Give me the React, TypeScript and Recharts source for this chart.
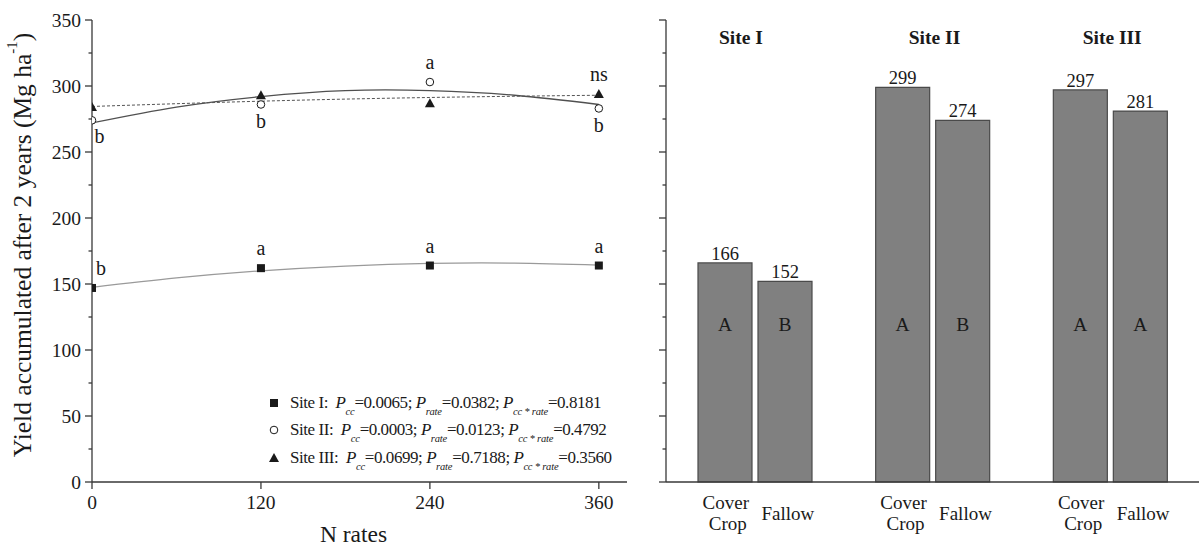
import React from 'react';
import {
  ComposedChart,
  BarChart,
  Bar,
  Line,
  Scatter,
  XAxis,
  YAxis,
  Legend,
  LabelList,
  ReferenceDot,
} from 'recharts';

// ---------------- data: left panel ----------------
const nRates = [0, 120, 240, 360];
const siteIYield = [147, 162, 164, 164];
const siteIIYield = [274, 286, 303, 283];
const siteIIIYield = [284, 293, 287, 294];

const siteILetters = ['b', 'a', 'a', 'a'];
const siteIILetters = ['b', 'b', 'a', 'b'];
const siteIIILetters = ['', '', '', 'ns'];
const siteILetterPos = ['aboveRight', 'above', 'above', 'above'];
const siteIILetterPos = ['belowRight', 'below', 'above', 'below'];
const siteIIILetterPos = ['', '', '', 'above'];

// fitted curves
const fitRates = [0, 60, 120, 180, 240, 300, 360];
const siteIFit = [147.5, 154.6, 160, 163.6, 165.6, 165.8, 164.3];
const siteIIFit = [272, 284, 292, 296.5, 296.5, 293, 286];
const siteIIIFitRates = [0, 120, 240, 360];
const siteIIIFit = [284.5, 288.5, 291.3, 293];

const xTicks = [0, 120, 240, 360];
const yTicks = [0, 25, 50, 75, 100, 125, 150, 175, 200, 225, 250, 275, 300, 325, 350];

// legend
const legendNames = ['Site I', 'Site II', 'Site III'];
const legendShapes = ['square', 'circle', 'triangle'];
const pCc = ['0.0065', '0.0003', '0.0699'];
const pRate = ['0.0382', '0.0123', '0.7188'];
const pCcRate = ['0.8181', '0.4792', '0.3560'];

// ---------------- data: right panel ----------------
const sites = ['Site I', 'Site II', 'Site III'];
const coverCrop = [166, 299, 297];
const fallow = [152, 274, 281];
const coverLetters = ['A', 'A', 'A'];
const fallowLetters = ['B', 'B', 'A'];
const coverLabelLines = ['Cover', 'Crop'];
const fallowLabel = 'Fallow';
const letterLevel = 119;

// ---------------- styles ----------------
const FONT = '"Liberation Serif", "Times New Roman", Times, serif';
const INK = '#1a1a1a';
const AXIS = '#383838';
const TICK_SIZE = 7;
const TICK_MARGIN = 4;
const MINOR = 3.5;
const siteTitleShift = [-14, 2, 2];

const siteIData = nRates.map((x, i) => ({ x, y: siteIYield[i], letter: siteILetters[i], pos: siteILetterPos[i] }));
const siteIIData = nRates.map((x, i) => ({ x, y: siteIIYield[i], letter: siteIILetters[i], pos: siteIILetterPos[i] }));
const siteIIIData = nRates.map((x, i) => ({ x, y: siteIIIYield[i], letter: siteIIILetters[i], pos: siteIIILetterPos[i] }));
const siteIFitData = fitRates.map((x, i) => ({ x, y: siteIFit[i] }));
const siteIIFitData = fitRates.map((x, i) => ({ x, y: siteIIFit[i] }));
const siteIIIFitData = siteIIIFitRates.map((x, i) => ({ x, y: siteIIIFit[i] }));

const barData = sites.map((site, i) => ({
  site,
  cover: coverCrop[i],
  fallow: fallow[i],
  coverTag: `${coverLetters[i]}|${coverCrop[i]}`,
  fallowTag: `${fallowLetters[i]}|${fallow[i]}`,
}));

function makeYTick(showLabel: boolean) {
  return (props: any) => {
    const { x, y, payload } = props;
    const v = Number(payload.value);
    const major = v % 50 === 0;
    const axisX = x + TICK_SIZE + TICK_MARGIN;
    return (
      <g>
        <line x1={axisX - (major ? TICK_SIZE : MINOR)} x2={axisX} y1={y} y2={y} stroke={AXIS} strokeWidth={1.3} />
        {showLabel && major ? (
          <text x={x} y={y} dy="0.36em" textAnchor="end" fontFamily={FONT} fontSize={19.5} fill={INK}>
            {v}
          </text>
        ) : null}
      </g>
    );
  };
}

function markerEl(kind: string, cx: number, cy: number) {
  if (kind === 'square') return <rect x={cx - 4} y={cy - 4} width={8} height={8} fill={INK} />;
  if (kind === 'circle') return <circle cx={cx} cy={cy} r={3.8} fill="#fff" stroke={INK} strokeWidth={1} />;
  return <polygon points={`${cx},${cy - 5} ${cx + 5},${cy + 4} ${cx - 5},${cy + 4}`} fill={INK} />;
}

function letterEl(letter: string, pos: string, cx: number, cy: number) {
  if (!letter) return null;
  let dx = 0;
  let by = cy;
  if (pos === 'above') by = cy - 13;
  else if (pos === 'below') by = cy + 23.5;
  else if (pos === 'aboveRight') {
    dx = 9;
    by = cy - 12.5;
  } else if (pos === 'belowRight') {
    dx = 7.5;
    by = cy + 22.5;
  }
  return (
    <text x={cx + dx} y={by} textAnchor="middle" fontFamily={FONT} fontSize={20} fill={INK}>
      {letter}
    </text>
  );
}

function makeShape(kind: string) {
  return (props: any) => {
    const { cx, cy, payload } = props;
    return (
      <g>
        {markerEl(kind, cx, cy)}
        {letterEl(payload.letter, payload.pos, cx, cy)}
      </g>
    );
  };
}

const subStyle: React.CSSProperties = {
  fontSize: 10.5,
  fontStyle: 'italic',
  position: 'relative',
  top: 7,
  verticalAlign: 'baseline',
  lineHeight: 0,
  letterSpacing: -0.2,
};

function LegendBox() {
  return (
    <div style={{ fontFamily: FONT, fontSize: 17, color: INK, letterSpacing: -0.45 }}>
      {legendNames.map((name, i) => (
        <div key={name} style={{ height: 27.5, display: 'flex', alignItems: 'center', whiteSpace: 'nowrap' }}>
          <svg width={14} height={14} style={{ display: 'block', flexShrink: 0 }}>
            {markerEl(legendShapes[i], 7, 7)}
          </svg>
          <span style={{ marginLeft: 9, flexShrink: 0 }}>
            {name}:{'\u00a0\u00a0'}
            <i>P</i>
            <span style={subStyle}>cc</span>={pCc[i]}; <i>P</i>
            <span style={subStyle}>rate</span>={pRate[i]}; <i>P</i>
            <span style={subStyle}>cc * rate</span>={pCcRate[i]}
          </span>
        </div>
      ))}
    </div>
  );
}

function YTitle(props: any) {
  const cx = 22;
  const cy = 245;
  return (
    <text
      x={cx}
      y={cy}
      transform={`rotate(-90, ${cx}, ${cy})`}
      textAnchor="middle"
      dominantBaseline="central"
      fontFamily={FONT}
      fontSize={25.5}
      fill={INK}
    >
      Yield accumulated after 2 years (Mg ha
      <tspan dy={-10} fontSize={15}>
        -1
      </tspan>
      <tspan dy={10}>)</tspan>
    </text>
  );
}

function XTitle(props: any) {
  const vb = props.viewBox || {};
  return (
    <text x={vb.x + vb.width / 2 - 6} y={542} textAnchor="middle" fontFamily={FONT} fontSize={23.5} fill={INK}>
      N rates
    </text>
  );
}

function BarXTick(props: any) {
  const { x, y } = props;
  return (
    <g fontFamily={FONT} fontSize={19} fill={INK}>
      <text x={x - 29} y={y + 27} textAnchor="middle" fill={INK}>
        {coverLabelLines[0]}
      </text>
      <text x={x - 27} y={y + 48} textAnchor="middle" fill={INK}>
        {coverLabelLines[1]}
      </text>
      <text x={x + 33} y={y + 38} textAnchor="middle" fill={INK}>
        {fallowLabel}
      </text>
    </g>
  );
}

function ValueLabel(props: any) {
  const vb = props.viewBox || props;
  return (
    <text x={vb.x + vb.width / 2} y={vb.y - 3} textAnchor="middle" fontFamily={FONT} fontSize={18.5} fill={INK}>
      {props.value}
    </text>
  );
}

function InnerLetter(props: any) {
  const vb = props.viewBox || props;
  const [letter, valStr] = String(props.value).split('|');
  const val = Number(valStr);
  const bottom = vb.y + vb.height;
  const cy = bottom - (letterLevel * vb.height) / val;
  return (
    <text x={vb.x + vb.width / 2} y={cy + 6.5} textAnchor="middle" fontFamily={FONT} fontSize={19.5} fill={INK}>
      {letter}
    </text>
  );
}

function SiteTitle(props: any) {
  const vb = props.viewBox || {};
  const i = sites.indexOf(props.value);
  const cx = vb.x + (vb.width || 0) / 2 + (siteTitleShift[i] || 0);
  return (
    <text x={cx} y={vb.y + 24} textAnchor="middle" fontFamily={FONT} fontSize={19.5} fontWeight="bold" fill={INK}>
      {props.value}
    </text>
  );
}

export default function App() {
  return (
    <div style={{ position: 'absolute', left: 0, top: 0, width: 1200, height: 546, background: '#fff', overflow: 'hidden' }}>
      <div style={{ position: 'absolute', left: 0, top: 0 }}>
        <ComposedChart width={640} height={546} margin={{ top: 20, right: 13, bottom: 0, left: 0 }}>
          <XAxis
            type="number"
            dataKey="x"
            domain={[0, 380]}
            ticks={xTicks}
            allowDataOverflow
            height={64}
            tickSize={TICK_SIZE}
            tickMargin={6}
            stroke={AXIS}
            strokeWidth={1.3}
            tick={{ fontSize: 19.5, fill: INK, fontFamily: FONT }}
            label={{ content: XTitle }}
          />
          <XAxis xAxisId="top" orientation="top" type="number" domain={[0, 380]} height={0} tick={false} tickLine={false} stroke={AXIS} strokeWidth={1.3} />
          <YAxis
            type="number"
            dataKey="y"
            domain={[0, 350]}
            ticks={yTicks}
            interval={0}
            width={92}
            tickSize={TICK_SIZE}
            tickMargin={TICK_MARGIN}
            tickLine={false}
            stroke={AXIS}
            strokeWidth={1.3}
            tick={makeYTick(true)}
            label={{ content: YTitle }}
          />
          <YAxis yAxisId="r" orientation="right" type="number" domain={[0, 350]} width={0} tick={false} tickLine={false} stroke={AXIS} strokeWidth={1.3} />
          <Line data={siteIFitData} dataKey="y" type="natural" stroke="#9a9a9a" strokeWidth={1.2} dot={false} isAnimationActive={false} />
          <Line data={siteIIFitData} dataKey="y" type="natural" stroke="#505050" strokeWidth={1.3} dot={false} isAnimationActive={false} />
          <Line data={siteIIIFitData} dataKey="y" type="natural" stroke="#555" strokeWidth={1} strokeDasharray="3 2" dot={false} isAnimationActive={false} />
          <Scatter data={siteIData} shape={makeShape('square')} isAnimationActive={false} />
          <Scatter data={siteIIIData} shape={makeShape('triangle')} isAnimationActive={false} />
          <Scatter data={siteIIData} shape={makeShape('circle')} isAnimationActive={false} />
          <Legend
            layout="horizontal"
            verticalAlign="middle"
            align="center"
            wrapperStyle={{ left: 267, top: 389, width: 360, height: 84 }}
            content={() => <LegendBox />}
          />
        </ComposedChart>
      </div>
      <div style={{ position: 'absolute', left: 640, top: 0 }}>
        <BarChart width={560} height={546} data={barData} margin={{ top: 20, right: 1, bottom: 0, left: 0 }} barSize={54} barGap={6}>
          <XAxis dataKey="site" height={64} tickLine={false} tickSize={0} tickMargin={0} stroke={AXIS} strokeWidth={1.3} tick={BarXTick} interval={0} />
          <XAxis xAxisId="top" dataKey="site" orientation="top" height={0} tick={false} tickLine={false} stroke={AXIS} strokeWidth={1.3} />
          <YAxis
            type="number"
            domain={[0, 350]}
            ticks={yTicks}
            interval={0}
            width={26}
            tickSize={TICK_SIZE}
            tickMargin={TICK_MARGIN}
            tickLine={false}
            stroke={AXIS}
            strokeWidth={1.3}
            tick={makeYTick(false)}
          />
          <YAxis yAxisId="r" orientation="right" type="number" domain={[0, 350]} width={0} tick={false} tickLine={false} stroke={AXIS} strokeWidth={1.3} />
          <Bar dataKey="cover" fill="#808080" stroke="#4a4a4a" strokeWidth={1.2} isAnimationActive={false}>
            <LabelList dataKey="cover" content={ValueLabel} />
            <LabelList dataKey="coverTag" content={InnerLetter} />
          </Bar>
          <Bar dataKey="fallow" fill="#808080" stroke="#4a4a4a" strokeWidth={1.2} isAnimationActive={false}>
            <LabelList dataKey="fallow" content={ValueLabel} />
            <LabelList dataKey="fallowTag" content={InnerLetter} />
          </Bar>
          {sites.map((s) => (
            <ReferenceDot key={s} x={s} y={350} r={0} fill="none" stroke="none" label={{ value: s, content: SiteTitle }} />
          ))}
        </BarChart>
      </div>
    </div>
  );
}
